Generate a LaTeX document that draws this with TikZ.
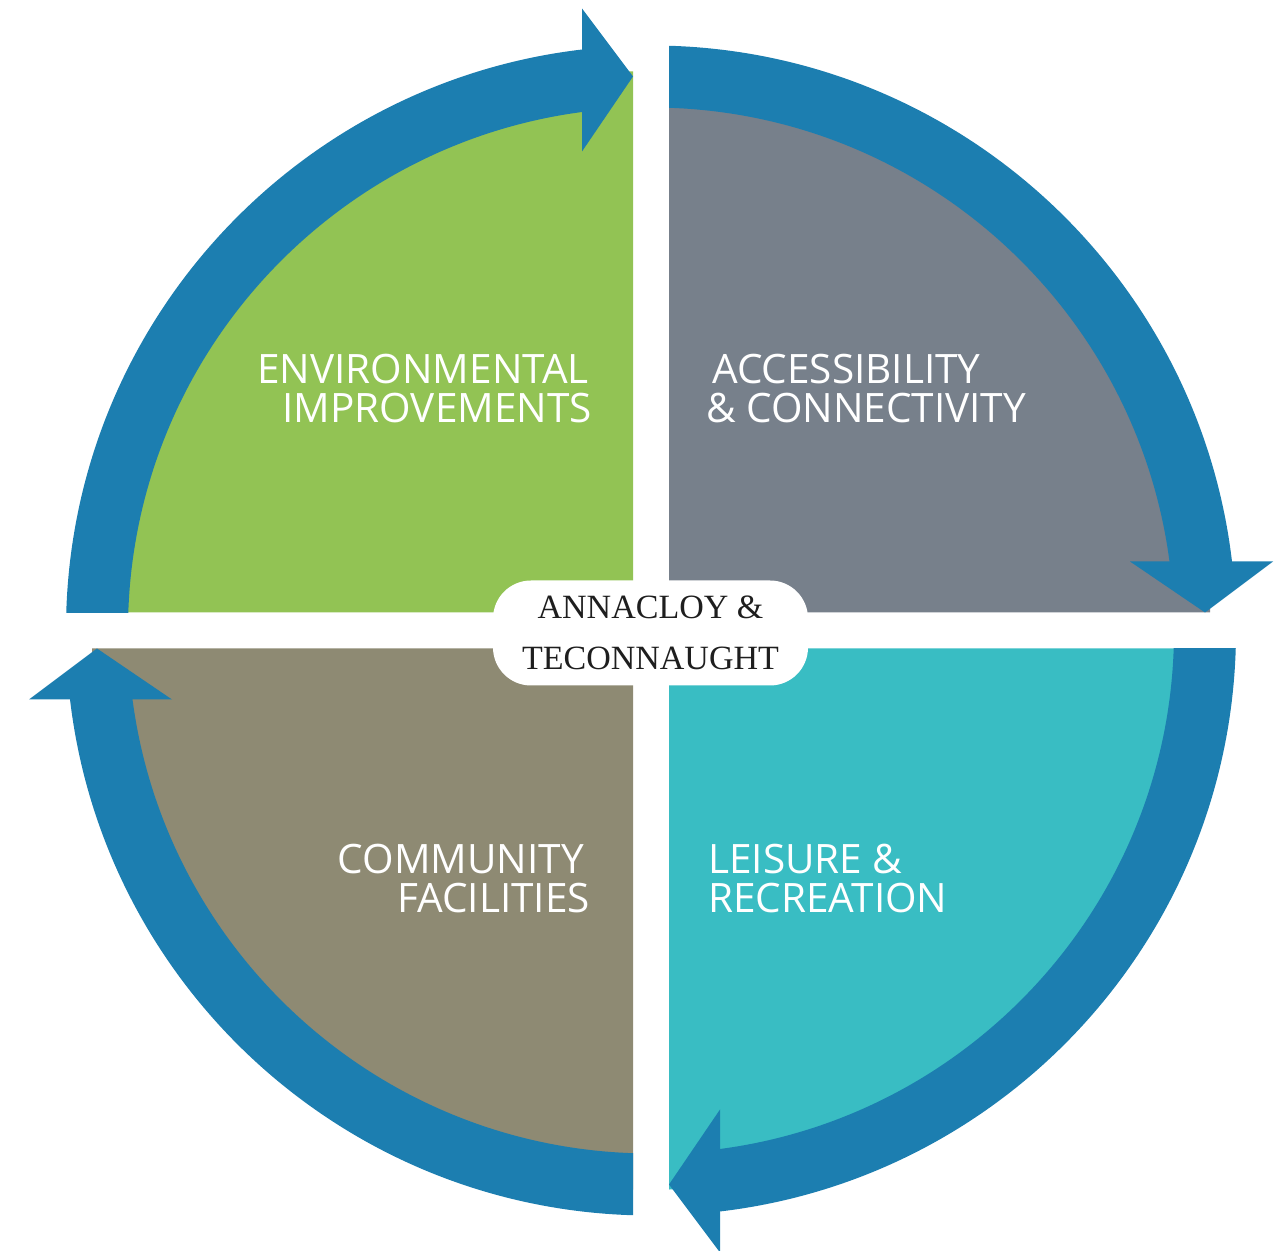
\documentclass[tikz,border=0pt]{standalone}
\usepackage{fontspec}
\setmainfont{Liberation Serif}
\newfontfamily\labelfont{Open Sans}
\definecolor{ringblue}{RGB}{28,126,176}
\definecolor{envgreen}{RGB}{146,195,84}
\definecolor{accgrey}{RGB}{119,128,139}
\definecolor{leiteal}{RGB}{57,189,195}
\definecolor{comkhaki}{RGB}{142,138,115}
\definecolor{hubtext}{RGB}{30,30,30}
\tikzset{
  quadlabel/.style={font=\labelfont\fontsize{40.5}{40.5}\selectfont, text=white, inner sep=0pt},
  hubbox/.style={fill=white, rounded corners=38pt, minimum width=315pt, minimum height=105pt,
    inner sep=0pt, align=center, text=hubtext, font=\fontsize{34}{51}\selectfont},
  ringfill/.style={fill=ringblue},
}
\begin{document}
\begin{tikzpicture}[x=1pt,y=1pt]
\useasboundingbox (0,0) rectangle (1287,1250);
\begin{scope}[shift={(651,619.5)}]
  % quadrant fills
  \fill[envgreen] (-18,18) -- (-559,18) arc[start angle=180,end angle=90,radius=541] -- cycle;
  \begin{scope}[rotate=-90]
    \fill[accgrey] (-18,18) -- (-559,18) arc[start angle=180,end angle=90,radius=541] -- cycle;
  \end{scope}
  \begin{scope}[rotate=-180]
    \fill[leiteal] (-18,18) -- (-559,18) arc[start angle=180,end angle=90,radius=541] -- cycle;
  \end{scope}
  \begin{scope}[rotate=-270]
    \fill[comkhaki] (-18,18) -- (-559,18) arc[start angle=180,end angle=90,radius=541] -- cycle;
  \end{scope}
  % ring segments with arrowheads
  \foreach \ang in {0,-90,-180,-270}{
    \begin{scope}[rotate=\ang]
      \begin{scope}
        \clip (-700,18) rectangle (-68,700);
        \fill[ringfill, even odd rule] (0,0) circle[radius=585] (0,0) circle[radius=523];
      \end{scope}
      \fill[ringfill] (-69,622) -- (-69,479) -- (-18,554) -- cycle;
    \end{scope}
  }
  % center label
  \node[hubbox] (hub) at (-0.5,-2.5) {ANNACLOY \&\\TECONNAUGHT};
  % quadrant labels
  \node[quadlabel, anchor=base east] (env1) at (-62,246.5) {ENVIRONMENTAL};
  \node[quadlabel, anchor=base east] (env2) at (-59,207.5) {IMPROVEMENTS};
  \node[quadlabel, anchor=base west] (acc1) at (61,246.5) {ACCESSIBILITY};
  \node[quadlabel, anchor=base west] (acc2) at (55,207.5) {\& CONNECTIVITY};
  \node[quadlabel, anchor=base east] (com1) at (-67,-243.5) {COMMUNITY};
  \node[quadlabel, anchor=base east] (com2) at (-61,-282.5) {FACILITIES};
  \node[quadlabel, anchor=base west] (lei1) at (57,-243.5) {LEISURE \&};
  \node[quadlabel, anchor=base west] (lei2) at (57,-282.5) {RECREATION};
\end{scope}
\end{tikzpicture}
\end{document}
